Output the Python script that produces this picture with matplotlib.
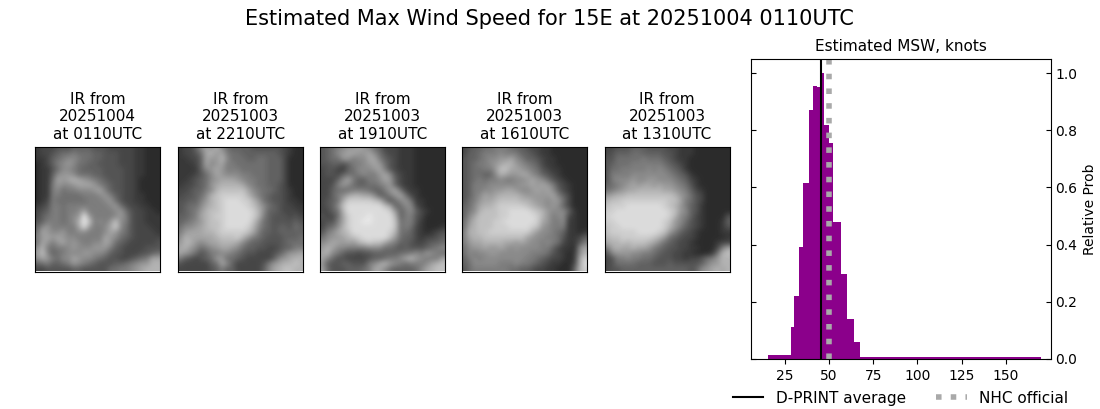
import matplotlib
matplotlib.use("Agg")
import matplotlib.pyplot as plt
import numpy as np

# --- DATA ---
# histogram of estimated MSW (variable width bins)
bin_edges = [15.6, 28.6, 30.2, 33.1, 35.3, 38.7, 41.0, 43.2, 46.0, 47.1, 50.0,
             52.2, 56.8, 60.2, 64.1, 67.5, 169.8]
rel_prob = [0.015, 0.113, 0.221, 0.393, 0.617, 0.872, 0.956, 0.952, 1.0, 0.82,
            0.756, 0.48, 0.298, 0.141, 0.06, 0.005]
dprint_avg = 45.5
nhc_official = 50

img_titles = ["IR from\n20251004\nat 0110UTC", "IR from\n20251003\nat 2210UTC",
              "IR from\n20251003\nat 1910UTC", "IR from\n20251003\nat 1610UTC",
              "IR from\n20251003\nat 1310UTC"]

# coarse brightness of each IR image, one hex digit per cell
ir_0110 = ["233344455554443333322111",
           "233456676665544433322111",
           "223567887665544433322111",
           "123578986655444433322111",
           "122468876555544443322111",
           "122589986665544443322111",
           "1226a9aba987654443321111",
           "12279889aaa9765443321111",
           "122786778889a75443321111",
           "122776666777897543322111",
           "123766666677789643322111",
           "2347767777777789643322111",
           "345776778a77777896433221",
           "356776789f97777897433222",
           "45777678bfc7879c87433222",
           "58977777ae9778ad86433322",
           "6a988977887778a976433332",
           "79a9a98877777a9865433333",
           "6a979a8987788a9654333334",
           "8b76778988899975433334444",
           "9c8567888998875443334456",
           "8a97688a98876544334567aa",
           "5675567987654445567899bb",
           "33444445544444667789abbb"]
ir_2210 = ["23358a9b8655554444443211",
           "23346ab9a766555555543211",
           "22335a99b866655665553111",
           "22235a89a776666665553111",
           "2222589a9777666665553111",
           "2223468a9888776665553111",
           "22345689aaa9877665553111",
           "2334569abbbba87665543111",
           "3345578bccccca8766543211",
           "34456 8bcdddddb9765443211",
           "4455 79bcdeeeddb965443221",
           "45668abcdeeeedca86543322",
           "45679bccdeeeeedb85543332",
           "5567abcddeeeeedb75444343",
           "56789bccdeeeeec965444454",
           "6889abccdeeeedb865455465",
           "79aaabbcdddddca755455555",
           "8baaaaabcccdb97654445556",
           "9bb989aabbba865544445666",
           "ab986789aa98655443345577",
           "a9864577887654433345799a",
           "754345699665433333589abb",
           "43333356a8533333479abbcb",
           "333333457553333358abccbb"]
ir_1910 = ["4567899a9865333222111111",
           "45689aa99a86433222111111",
           "456699788aa7543222111111",
           "44554577 89a9643222111111",
           "34432 568889a743222111111",
           "344356678779a84322111111",
           "33358a755778a95322111111",
           "33479865566789532211111",
           "33566677765579 a6322111111",
           "3357 8abbaa85579a632111111",
           "3456adddddcb74689622111111",
           "3458ceeeeeeeca5688 3211111",
           "3356beeeeeeeed95785321111",
           "4336adeeefeeeeb57743111112",
           "3447adeeffeeeec67742111123",
           "3568bdeeeeeeeec67632111233",
           "478abceeeeeeedb66532123444",
           "6899abcdeeeeec9655323345",
           "89aa9a9bcdcca87554334556",
           "9ba8877778886654544456786",
           "ab875443445555566787 98 76",
           "a8644333345567 78ab9877 7aa",
           "95445544478ab9876777 8abc",
           "a64445556 7aa8655556 8abcc"]
ir_1610 = ["34556677765543322111111",
           "3556777877755432211111",
           "455678899a8755432211111",
           "4567789abb98765322111111",
           "45667 79ccaa98764322111111",
           "456655 8ba99aa8754321111",
           "4567677877889a9864321111",
           "4577788888899a9a97432111",
           "45778899aa9889a9a8532111",
           "4578a9abbbba99999a753111",
           "4679aabccccbba9989963111",
           "568abbcdddddcba98985 3111",
           "578bcccddeeeedcb98885211",
           "58accccddeeeeedb97883211",
           "69bcccddeeeeeeda97782211",
           "6abcccdddeeeedc987772211",
           "7bbccddddddddb9887652212",
           "7abbcccccccca98877642235",
           "79aabbbbaa9a9887876322 47",
           "6899a99a9898888 77532218a",
           "68788 9988888877 76432128b",
           "5787888 888887765433212ad",
           "5688888777877654322113ae",
           "4677777776655433221115bd"]
ir_1310 = ["3344455544443322211111111",
           "34555665555443222111111111",
           "4466666766654322111111111",
           "4566677777765432111111111",
           "4667777787876542111111111",
           "4777788888887654211111111",
           "4788898899888765321111111",
           "5678 9a9aa9a99876421111111",
           "6789aabbbbbaa9875321111111",
           "9abbcccccccccb986431111111",
           "bccdddddddddcca76431111111",
           "cdddeeeeeeedcb975421111111",
           "ddeeeeeeeeeedc985421111131",
           "deeeeeeeeeeedb875321111441",
           "ddeeeeeeeeedc9864321112563",
           "cddeeeeeeeedb9754321112442",
           "cdddddeeeedc97543211 11222",
           "bccddddddcb9654332111112",
           "abbcbcccba8654332 111123",
           "7abaabaa97654433221113 7a",
           "4899988776544332211126bc",
           "347787766544433233 4679b",
           "3466665554445444445799bb",
           "34455555555555554589abab"]
ir_images = [ir_0110, ir_2210, ir_1910, ir_1610, ir_1310]

# left edge of each image axes, pixels
IMG_LEFT = [35, 178, 320, 462, 604.5]
W, H = 1100, 409
GRID = 24


def to_array(rows):
    # rows were typed by eye, squeeze to the grid width
    out = []
    for r in rows:
        r = r.replace(" ", "")
        r = r.ljust(GRID, r[-1])[:GRID]
        out.append([30 + 13.5 * int(c, 16) for c in r])
    return np.array(out)


def main():
    fig = plt.figure(figsize=(11, 4.09), dpi=100)
    fig.suptitle("Estimated Max Wind Speed for 15E at 20251004 0110UTC", fontsize=15, x=0.4995, y=0.978)

    for left, rows, title in zip(IMG_LEFT, ir_images, img_titles):
        ax = fig.add_axes([left / W, 1 - 271.5 / H, 125 / W, 124.5 / H])
        ax.imshow(to_array(rows), cmap="gray", vmin=0, vmax=255, interpolation="bicubic", aspect="auto")
        # stay clear of the faded outer edge of the resampled image
        ax.set_xlim(-0.4, GRID - 0.6)
        ax.set_ylim(GRID - 0.6, -0.4)
        ax.set_xticks([])
        ax.set_yticks([])
        ax.set_title(title, fontsize=11)

    ax = fig.add_axes([750.5 / W, 1 - 358.9 / H, 300 / W, 300 / H])
    ax.bar(bin_edges[:-1], rel_prob, width=np.diff(bin_edges), align="edge", color="darkmagenta")
    ax.axvline(dprint_avg, color="k", lw=1.5, label="D-PRINT average")
    ax.axvline(nhc_official, color="darkgray", lw=4, ls=":", label="NHC official")
    ax.set_xlim(5.7, 175.2)
    ax.set_ylim(0, 1.05)
    ax.set_xticks([25, 50, 75, 100, 125, 150])
    ax.yaxis.tick_right()
    ax.yaxis.set_label_position("right")
    ax.tick_params(axis="y", direction="in", left=True, right=True)
    ax.set_ylabel("Relative Prob")
    ax.set_title("Estimated MSW, knots", fontsize=11)
    ax.legend(loc="upper center", bbox_to_anchor=(0.5, -0.06), ncol=2, frameon=False, fontsize=11)

    fig.savefig("out.png", dpi=100)


if __name__ == "__main__":
    main()
